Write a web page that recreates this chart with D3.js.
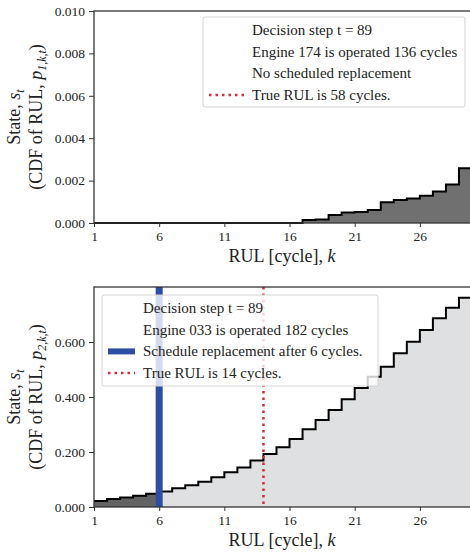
<!DOCTYPE html>
<html>
<head>
<meta charset="utf-8">
<script src="https://cdn.jsdelivr.net/npm/d3@7"></script>
<style>
  body { margin: 0; background: #fff; }
  svg { display: block; font-family: "Liberation Serif", "DejaVu Serif", serif; }
  svg text { font-family: "Liberation Serif", "DejaVu Serif", serif !important; }
</style>
</head>
<body>
<svg id="chart" width="470" height="559"></svg>
<script>
// RUL index k
const kValues = [1, 2, 3, 4, 5, 6, 7, 8, 9, 10, 11, 12, 13, 14, 15, 16, 17, 18, 19, 20, 21, 22, 23, 24, 25, 26, 27, 28, 29];
const kEnd = 30;
const xTicks = [1, 6, 11, 16, 21, 26];

// engine 174 (top), CDF of RUL
const cdfEngine174 = [0, 0, 0, 0, 0, 0, 0, 0, 0, 0, 0, 0, 0, 0, 0, 0,
  0.00014, 0.00017, 0.00038, 0.00050, 0.00052, 0.00061, 0.00098, 0.00108,
  0.00116, 0.00129, 0.00148, 0.00182, 0.00258];
const yTicksTop = [0, 0.002, 0.004, 0.006, 0.008, 0.010];

// engine 033 (bottom), CDF of RUL
const cdfEngine033 = [0.022, 0.029, 0.035, 0.041, 0.048, 0.056, 0.068, 0.079, 0.092,
  0.108, 0.126, 0.144, 0.169, 0.193, 0.217, 0.247, 0.283, 0.316, 0.353, 0.392,
  0.433, 0.474, 0.510, 0.559, 0.601, 0.644, 0.686, 0.725, 0.761];
const yTicksBottom = [0, 0.2, 0.4, 0.6];

const replaceAfter = 6;   // scheduled replacement (bottom)
const trueRulBottom = 14;

const legendTop = ["Decision step t = 89", "Engine 174 is operated 136 cycles", "No scheduled replacement", "True RUL is 58 cycles."];
const legendBottom = ["Decision step t = 89", "Engine 033 is operated 182 cycles", "Schedule replacement after 6 cycles.", "True RUL is 14 cycles."];

const svg = d3.select("#chart");
const x = d3.scaleLinear().domain([1, kEnd]).range([94, 472]);

function stepPoints(vals, from, to) {
  const pts = [];
  kValues.forEach(function (k, i) {
    if (k >= from && k <= to) pts.push([k, vals[i]]);
  });
  if (to >= kEnd) pts.push([kEnd, vals[vals.length - 1]]);
  return pts;
}

function drawPanel(opts) {
  const y = d3.scaleLinear().domain(opts.yDomain).range([opts.bottom, opts.top]);
  const g = svg.append("g");

  const area = d3.area().curve(d3.curveStepAfter)
    .x(function (d) { return x(d[0]); })
    .y0(y(0))
    .y1(function (d) { return y(d[1]); });
  const line = d3.line().curve(d3.curveStepAfter)
    .x(function (d) { return x(d[0]); })
    .y(function (d) { return y(d[1]); });

  opts.fills.forEach(function (f) {
    g.append("path")
      .attr("d", area(stepPoints(opts.values, f.from, f.to)))
      .attr("fill", f.color);
  });

  g.append("path")
    .attr("d", line(stepPoints(opts.values, 1, kEnd)))
    .attr("fill", "none")
    .attr("stroke", "#000")
    .attr("stroke-width", 2);

  if (opts.replace) {
    g.append("line")
      .attr("x1", x(opts.replace)).attr("x2", x(opts.replace))
      .attr("y1", opts.top).attr("y2", opts.bottom)
      .attr("stroke", "#2c4ea3").attr("stroke-width", 7);
  }
  if (opts.trueRul) {
    g.append("line")
      .attr("x1", x(opts.trueRul)).attr("x2", x(opts.trueRul))
      .attr("y1", opts.top).attr("y2", opts.bottom)
      .attr("stroke", "#e0283c").attr("stroke-width", 2.5)
      .attr("stroke-dasharray", "2.5,4");
  }

  // axes
  const xAxis = g.append("g")
    .attr("transform", "translate(0," + opts.bottom + ")")
    .call(d3.axisBottom(x).tickValues(xTicks).tickFormat(d3.format("d")).tickSize(4).tickPadding(4));
  const yAxis = g.append("g")
    .attr("transform", "translate(" + x(1) + ",0)")
    .call(d3.axisLeft(y).tickValues(opts.yTicks).tickFormat(d3.format(".3f")).tickSize(5).tickPadding(4));
  [xAxis, yAxis].forEach(function (a) {
    a.attr("font-family", null).attr("font-size", 13.5);
    a.select(".domain").remove();
    a.selectAll("text").attr("fill", "#222");
    a.selectAll("line").attr("stroke", "#333");
  });

  // frame
  g.append("rect")
    .attr("x", x(1)).attr("y", opts.top)
    .attr("width", x(kEnd) - x(1)).attr("height", opts.bottom - opts.top)
    .attr("fill", "none").attr("stroke", "#333").attr("stroke-width", 1.3);

  // x label
  const xl = g.append("text")
    .attr("x", 282).attr("y", opts.bottom + 39)
    .attr("text-anchor", "middle").attr("font-size", 18).attr("fill", "#222");
  xl.append("tspan").text("RUL [cycle], ");
  xl.append("tspan").attr("font-style", "italic").text("k");

  // y label (two lines)
  const cy = (opts.top + opts.bottom) / 2;
  const yl1 = g.append("text")
    .attr("transform", "translate(20," + cy + ") rotate(-90)")
    .attr("text-anchor", "middle").attr("font-size", 18).attr("fill", "#222");
  yl1.append("tspan").text("State, ");
  yl1.append("tspan").attr("font-style", "italic").text("s");
  yl1.append("tspan").attr("font-style", "italic").attr("font-size", 12).attr("dy", 4).text("t");
  const yl2 = g.append("text")
    .attr("transform", "translate(42," + cy + ") rotate(-90)")
    .attr("text-anchor", "middle").attr("font-size", 18).attr("fill", "#222");
  yl2.append("tspan").text("(CDF of RUL, ");
  yl2.append("tspan").attr("font-style", "italic").text("p");
  yl2.append("tspan").attr("font-style", "italic").attr("font-size", 12).attr("dy", 4).text(opts.pSub);
  yl2.append("tspan").attr("dy", -4).text(")");

  // legend
  const lg = opts.legend;
  g.append("rect")
    .attr("x", lg.x).attr("y", lg.y).attr("width", lg.w).attr("height", lg.h)
    .attr("rx", 2)
    .attr("fill", "#fff").attr("fill-opacity", 0.8)
    .attr("stroke", "#d4d4d4");
  lg.items.forEach(function (txt, i) {
    const cyRow = lg.y + 13 + i * 21.7;
    g.append("text")
      .attr("x", lg.textX).attr("y", cyRow + 5)
      .attr("font-size", 15).attr("fill", "#222")
      .text(txt);
    const h = lg.handles[i];
    if (h === "blue") {
      g.append("line")
        .attr("x1", lg.x + 6).attr("x2", lg.textX - 8)
        .attr("y1", cyRow).attr("y2", cyRow)
        .attr("stroke", "#2c4ea3").attr("stroke-width", 6);
    } else if (h === "red") {
      g.append("line")
        .attr("x1", lg.x + 6).attr("x2", lg.textX - 8)
        .attr("y1", cyRow).attr("y2", cyRow)
        .attr("stroke", "#e0283c").attr("stroke-width", 2.5)
        .attr("stroke-dasharray", "2.5,4");
    }
  });
}

drawPanel({
  top: 11, bottom: 223,
  yDomain: [0, 0.010], yTicks: yTicksTop,
  values: cdfEngine174,
  fills: [{ from: 1, to: kEnd, color: "#707070" }],
  pSub: "1,k,t",
  legend: { x: 203, y: 17, w: 262, h: 90, textX: 252, items: legendTop, handles: [null, null, null, "red"] }
});

drawPanel({
  top: 287, bottom: 507,
  yDomain: [0, 0.8], yTicks: yTicksBottom,
  values: cdfEngine033,
  fills: [{ from: 1, to: replaceAfter, color: "#636363" }, { from: replaceAfter, to: kEnd, color: "#dfe0e2" }],
  replace: replaceAfter,
  trueRul: trueRulBottom,
  pSub: "2,k,t",
  legend: { x: 102, y: 295, w: 276, h: 91, textX: 143, items: legendBottom, handles: [null, null, "blue", "red"] }
});
</script>
</body>
</html>
